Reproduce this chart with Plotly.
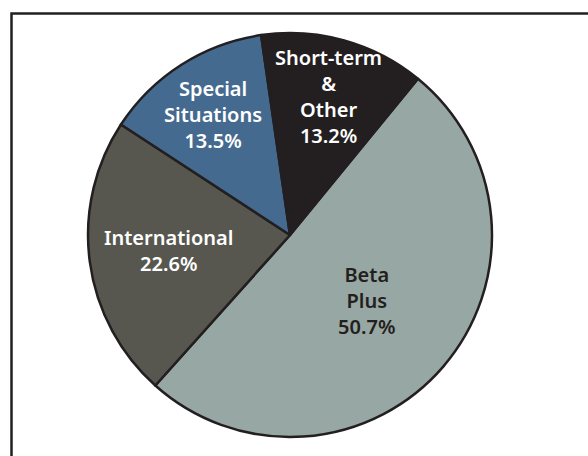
import plotly.graph_objects as go

labels = ["Beta Plus", "International", "Special Situations", "Short-term & Other"]
values = [50.7, 22.6, 13.5, 13.2]
texts = ["Beta<br>Plus<br>50.7%", "International<br>22.6%", "Special<br>Situations<br>13.5%", "Short-term<br>&<br>Other<br>13.2%"]
colors = ["#97A7A3", "#57574F", "#456A8F", "#231F20"]
text_colors = ["#231F20", "white", "white", "white"]

fig = go.Figure(go.Pie(
    labels=labels, values=values, text=texts,
    textinfo="text", textposition="inside", insidetextorientation="horizontal",
    sort=False, direction="clockwise", rotation=39.3,
    marker=dict(colors=colors, line=dict(color="#231F20", width=2.5)),
    textfont=dict(family="Noto Sans", size=20, color=text_colors, weight=600),
    domain=dict(x=[0.1497, 0.8367], y=[0.0417, 0.9276]),
    showlegend=False, hoverinfo="label+percent",
))
fig.update_layout(
    width=588, height=456, margin=dict(l=0, r=0, t=0, b=0),
    paper_bgcolor="white", plot_bgcolor="white",
    uniformtext=dict(minsize=20, mode="show"),
    shapes=[dict(type="rect", xref="paper", yref="paper",
                 x0=11.5/588, x1=1.05, y0=-0.05, y1=1 - 13.5/456,
                 line=dict(color="#231F20", width=2.5))],
)
fig.write_html("out.html", config={"displayModeBar": False},
               post_script="document.body.style.margin='0';document.body.style.overflow='hidden';")
